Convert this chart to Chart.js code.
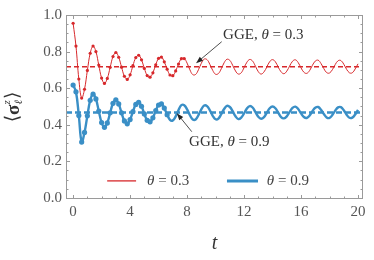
<!DOCTYPE html>
<html>
<head>
<meta charset="utf-8">
<script src="https://cdn.jsdelivr.net/npm/chart.js@4/dist/chart.umd.min.js"></script>
<style>
  html, body { margin: 0; padding: 0; background: #fff; }
  #wrap { width: 374px; height: 260px; }
</style>
</head>
<body>
<div id="wrap"><canvas id="myChart" width="374" height="260"></canvas></div>
<script>
// sample times t
var tValues = [0, 0.2, 0.4, 0.6, 0.8, 1.0, 1.2, 1.4, 1.6, 1.8,
  2.0, 2.2, 2.4, 2.6, 2.8, 3.0, 3.2, 3.4, 3.6, 3.8,
  4.0, 4.2, 4.4, 4.6, 4.8, 5.0, 5.2, 5.4, 5.6, 5.8,
  6.0, 6.2, 6.4, 6.6, 6.8, 7.0, 7.2, 7.4, 7.6, 7.8,
  8.0, 8.2, 8.4, 8.6, 8.8, 9.0, 9.2, 9.4, 9.6, 9.8,
  10.0, 10.2, 10.4, 10.6, 10.8, 11.0, 11.2, 11.4, 11.6, 11.8,
  12.0, 12.2, 12.4, 12.6, 12.8, 13.0, 13.2, 13.4, 13.6, 13.8,
  14.0, 14.2, 14.4, 14.6, 14.8, 15.0, 15.2, 15.4, 15.6, 15.8,
  16.0, 16.2, 16.4, 16.6, 16.8, 17.0, 17.2, 17.4, 17.6, 17.8,
  18.0, 18.2, 18.4, 18.6, 18.8, 19.0, 19.2, 19.4, 19.6, 19.8, 20.0];

// theta = 0.3
var redValues = [0.955, 0.830, 0.650, 0.546, 0.594, 0.697, 0.791, 0.830, 0.800, 0.726,
  0.655, 0.626, 0.653, 0.714, 0.773, 0.795, 0.769, 0.715, 0.665, 0.648,
  0.673, 0.723, 0.767, 0.780, 0.755, 0.708, 0.669, 0.660, 0.684, 0.728,
  0.763, 0.770, 0.744, 0.704, 0.672, 0.668, 0.694, 0.732, 0.761, 0.762,
  0.737, 0.700, 0.674, 0.675, 0.701, 0.736, 0.759, 0.756, 0.730, 0.697,
  0.676, 0.680, 0.706, 0.739, 0.758, 0.752, 0.725, 0.694, 0.677, 0.684,
  0.712, 0.742, 0.757, 0.748, 0.720, 0.690, 0.677, 0.689, 0.716, 0.745,
  0.756, 0.744, 0.715, 0.689, 0.679, 0.693, 0.721, 0.747, 0.755, 0.740,
  0.711, 0.687, 0.681, 0.696, 0.725, 0.748, 0.753, 0.735, 0.707, 0.685,
  0.683, 0.701, 0.729, 0.750, 0.751, 0.731, 0.703, 0.684, 0.684, 0.705, 0.733];

// theta = 0.9
var blueValues = [0.617, 0.580, 0.450, 0.305, 0.358, 0.449, 0.534, 0.567, 0.541, 0.475,
  0.412, 0.386, 0.410, 0.465, 0.517, 0.536, 0.514, 0.465, 0.421, 0.405,
  0.428, 0.472, 0.511, 0.523, 0.501, 0.459, 0.424, 0.416, 0.438, 0.477,
  0.508, 0.514, 0.491, 0.455, 0.427, 0.424, 0.446, 0.481, 0.507, 0.507,
  0.484, 0.452, 0.429, 0.429, 0.453, 0.484, 0.505, 0.502, 0.479, 0.449,
  0.430, 0.434, 0.458, 0.486, 0.503, 0.497, 0.474, 0.446, 0.431, 0.439,
  0.462, 0.489, 0.502, 0.494, 0.469, 0.444, 0.433, 0.442, 0.466, 0.490,
  0.500, 0.490, 0.466, 0.442, 0.435, 0.446, 0.470, 0.492, 0.499, 0.486,
  0.462, 0.442, 0.437, 0.450, 0.474, 0.493, 0.497, 0.482, 0.459, 0.440,
  0.437, 0.453, 0.477, 0.495, 0.496, 0.479, 0.455, 0.438, 0.439, 0.456, 0.481];

// GGE values (dashed lines)
var ggeValues = [0.717, 0.467];
var seriesLabels = ['0.3', '0.9'];
var xTickValues = [0, 4, 8, 12, 16, 20];
var yTickValues = [0, 0.2, 0.4, 0.6, 0.8, 1.0];

var RED = '#d7282b';
var BLUE = '#3a8fc6';
var SERIF = "'Liberation Serif', 'DejaVu Serif', serif";
var X_MIN = -0.5, X_MAX = 20.35, Y_MIN = -0.006, Y_MAX = 1.0;

function pts(ys) {
  return tValues.map(function (t, i) { return { x: t, y: ys[i] }; });
}
function flat(v) {
  return [{ x: X_MIN, y: v }, { x: X_MAX, y: v }];
}

function drawThetaText(c, x, y, prefix, value) {
  // "prefix θ = value" with italic theta
  c.textBaseline = 'middle';
  c.textAlign = 'left';
  c.font = '15px ' + SERIF;
  c.fillText(prefix, x, y);
  x += c.measureText(prefix).width;
  c.font = 'italic 15px ' + SERIF;
  c.fillText('θ', x, y);
  x += c.measureText('θ').width;
  c.font = '15px ' + SERIF;
  c.fillText(' = ' + value, x, y);
}

function arrow(c, x0, y0, x1, y1) {
  var a = Math.atan2(y1 - y0, x1 - x0);
  c.strokeStyle = '#222';
  c.fillStyle = '#222';
  c.lineWidth = 0.8;
  c.beginPath();
  c.moveTo(x0, y0);
  c.lineTo(x1 - 5 * Math.cos(a), y1 - 5 * Math.sin(a));
  c.stroke();
  c.beginPath();
  c.moveTo(x1, y1);
  c.lineTo(x1 - 7 * Math.cos(a) + 2.5 * Math.sin(a), y1 - 7 * Math.sin(a) - 2.5 * Math.cos(a));
  c.lineTo(x1 - 7 * Math.cos(a) - 2.5 * Math.sin(a), y1 - 7 * Math.sin(a) + 2.5 * Math.cos(a));
  c.closePath();
  c.fill();
}

// frame, inner ticks, annotations, legend, axis titles
var framePlugin = {
  id: 'frame',
  afterDraw: function (chart) {
    var c = chart.ctx, a = chart.chartArea;
    var xs = chart.scales.x, ys = chart.scales.y;
    c.save();
    c.strokeStyle = '#9a9a9a';
    c.lineWidth = 1;
    c.strokeRect(a.left + 0.5, a.top + 0.5, a.right - a.left - 1, a.bottom - a.top - 1);
    c.beginPath();
    for (var v = 0; v <= 20; v++) {
      var px = Math.round(xs.getPixelForValue(v)) + 0.5;
      var len = v % 4 === 0 ? 4 : 2.5;
      c.moveTo(px, a.bottom); c.lineTo(px, a.bottom - len);
      c.moveTo(px, a.top); c.lineTo(px, a.top + len);
    }
    for (var k = 0; k <= 20; k++) {
      var py = Math.round(ys.getPixelForValue(k * 0.05)) + 0.5;
      var l2 = k % 4 === 0 ? 4 : 2.5;
      c.moveTo(a.left, py); c.lineTo(a.left + l2, py);
      c.moveTo(a.right, py); c.lineTo(a.right - l2, py);
    }
    c.stroke();

    // annotations
    c.fillStyle = '#333';
    drawThetaText(c, xs.getPixelForValue(10.53), ys.getPixelForValue(0.891), 'GGE, ', seriesLabels[0]);
    drawThetaText(c, xs.getPixelForValue(8.14), ys.getPixelForValue(0.306), 'GGE, ', seriesLabels[1]);
    arrow(c, xs.getPixelForValue(10.43), ys.getPixelForValue(0.854), xs.getPixelForValue(8.63), ys.getPixelForValue(0.736));
    arrow(c, xs.getPixelForValue(8.33), ys.getPixelForValue(0.362), xs.getPixelForValue(7.28), ys.getPixelForValue(0.463));

    // legend
    var ly = ys.getPixelForValue(0.093);
    c.lineCap = 'butt';
    c.strokeStyle = RED; c.lineWidth = 1.3;
    c.beginPath(); c.moveTo(xs.getPixelForValue(2.39), ly); c.lineTo(xs.getPixelForValue(4.42), ly); c.stroke();
    c.strokeStyle = BLUE; c.lineWidth = 3;
    c.beginPath(); c.moveTo(xs.getPixelForValue(10.8), ly); c.lineTo(xs.getPixelForValue(12.98), ly); c.stroke();
    c.fillStyle = '#444';
    drawThetaText(c, xs.getPixelForValue(5.19), ly, '', seriesLabels[0]);
    drawThetaText(c, xs.getPixelForValue(13.6), ly, '', seriesLabels[1]);

    // x title
    c.fillStyle = '#333';
    c.font = 'italic 20px ' + SERIF;
    c.textAlign = 'center';
    c.textBaseline = 'alphabetic';
    c.fillText('t', (a.left + a.right) / 2, 249);

    // y title <sigma^z_l>, rotated
    c.translate(13, (a.top + a.bottom) / 2);
    c.rotate(-Math.PI / 2);
    c.textAlign = 'left';
    c.textBaseline = 'middle';
    c.font = '19px ' + SERIF;
    var w1 = c.measureText('⟨').width;
    c.font = 'bold 19px ' + SERIF;
    var w2 = c.measureText('σ').width;
    c.font = 'italic 11px ' + SERIF;
    var w3 = c.measureText('ℓ').width + 1;
    c.font = '19px ' + SERIF;
    var w4 = c.measureText('⟩').width;
    var x0 = -(w1 + w2 + w3 + w4) / 2;
    c.fillText('⟨', x0, 0);
    c.font = 'bold 19px ' + SERIF;
    c.fillText('σ', x0 + w1, 1);
    c.font = 'italic 11px ' + SERIF;
    c.fillText('z', x0 + w1 + w2, -6);
    c.fillText('ℓ', x0 + w1 + w2, 6);
    c.font = '19px ' + SERIF;
    c.fillText('⟩', x0 + w1 + w2 + w3, 0);
    c.restore();
  }
};

var ctx = document.getElementById('myChart').getContext('2d');
var chart = new Chart(ctx, {
  type: 'line',
  data: {
    datasets: [
      { label: 'GGE 0.3', data: flat(ggeValues[0]), borderColor: RED, borderWidth: 1.3, borderDash: [5, 3], pointRadius: 0 },
      { label: 'GGE 0.9', data: flat(ggeValues[1]), borderColor: BLUE, borderWidth: 2.6, borderDash: [6, 3], pointRadius: 0 },
      {
        label: 'θ = 0.3', data: pts(redValues), borderColor: RED, backgroundColor: RED,
        borderWidth: 1, tension: 0.4,
        pointRadius: function (c) { return c.raw && c.raw.x <= 7.8 ? 1.6 : 0; },
        pointBorderWidth: 0
      },
      {
        label: 'θ = 0.9', data: pts(blueValues), borderColor: BLUE, backgroundColor: BLUE,
        borderWidth: 2.4, tension: 0.4,
        pointRadius: function (c) { return c.raw && c.raw.x <= 6.6 ? 2.6 : 0; },
        pointBorderWidth: 0
      }
    ]
  },
  options: {
    responsive: false,
    animation: false,
    layout: { padding: { top: 15, right: 11, left: 0, bottom: 0 } },
    plugins: { legend: { display: false }, tooltip: { enabled: false } },
    scales: {
      x: {
        type: 'linear', min: X_MIN, max: X_MAX,
        grid: { display: false, drawTicks: false },
        border: { display: false },
        afterBuildTicks: function (s) { s.ticks = xTickValues.map(function (v) { return { value: v }; }); },
        afterFit: function (s) { s.height = 61; },
        ticks: { color: '#555', padding: 4, maxRotation: 0, font: { family: SERIF, size: 15 } }
      },
      y: {
        type: 'linear', min: Y_MIN, max: Y_MAX,
        grid: { display: false, drawTicks: false },
        border: { display: false },
        afterBuildTicks: function (s) { s.ticks = yTickValues.map(function (v) { return { value: v }; }); },
        afterFit: function (s) { s.width = 66; },
        ticks: {
          color: '#555', padding: 4, font: { family: SERIF, size: 15 },
          callback: function (v) { return v.toFixed(1); }
        }
      }
    }
  },
  plugins: [framePlugin]
});
</script>
</body>
</html>
